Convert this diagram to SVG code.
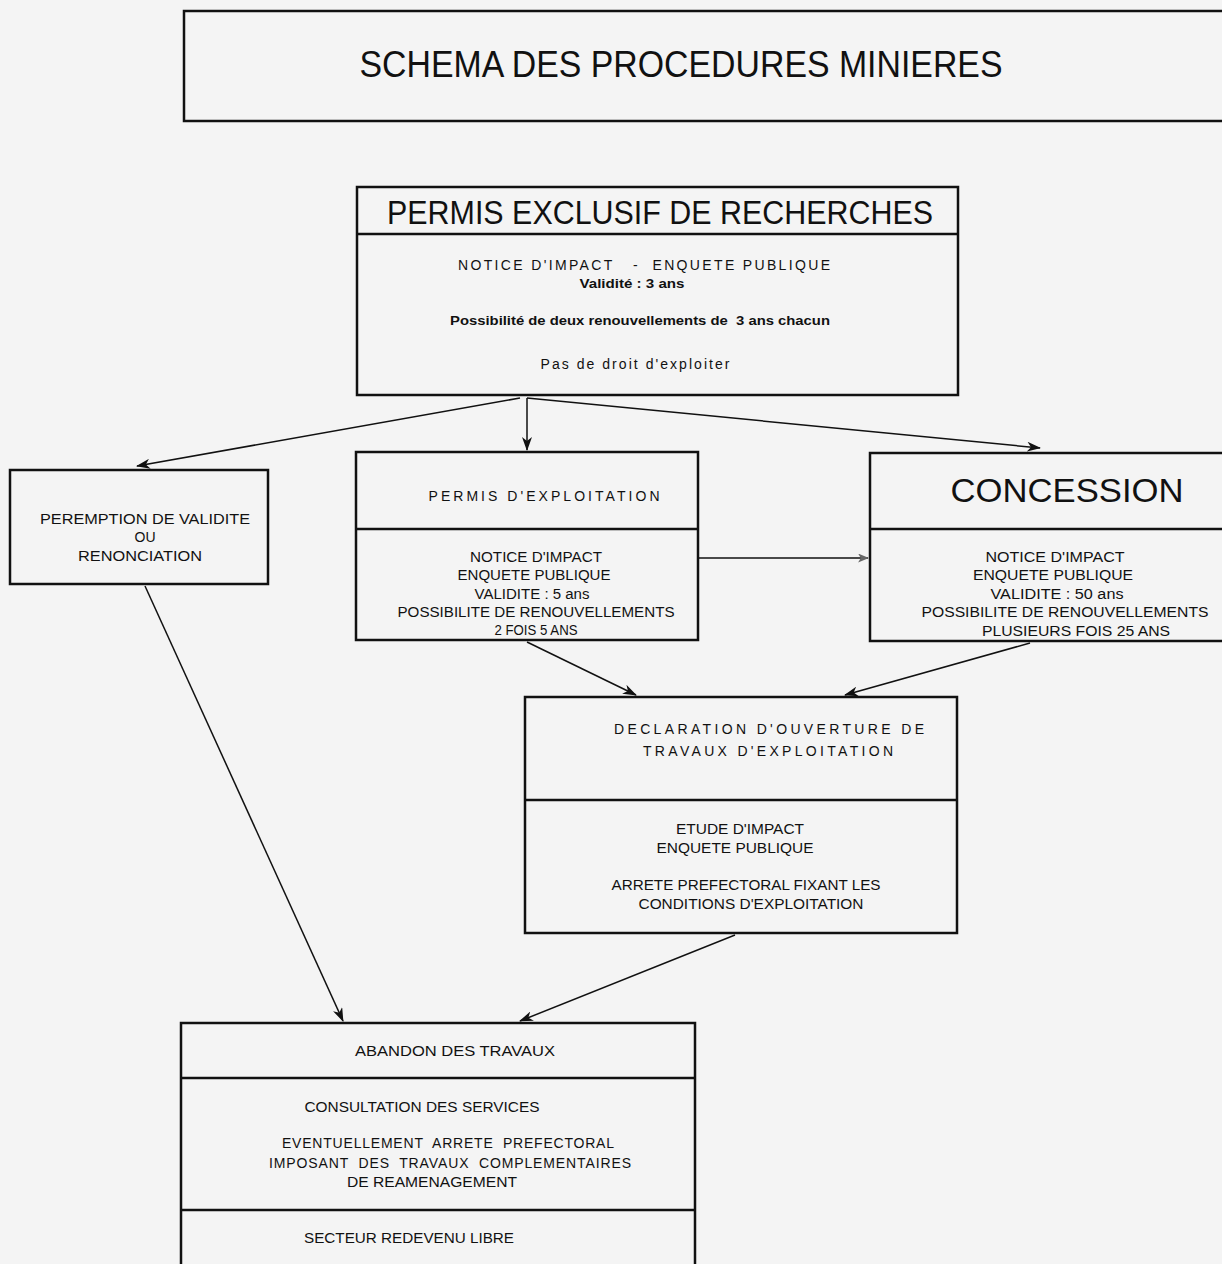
<svg xmlns="http://www.w3.org/2000/svg" width="1222" height="1264" viewBox="0 0 1222 1264">
<style>
.box{fill:none;stroke:#111;stroke-width:2.5}
.div{stroke:#111;stroke-width:2.5}
text{font-family:"Liberation Sans",Arial,sans-serif;fill:#111;text-anchor:middle;white-space:pre}
.s{font-size:14px}
.b{font-size:13px;font-weight:bold}
.big{font-size:33px}
.con{stroke:#111;stroke-width:1.5;fill:none}
</style>
<defs>
<marker id="ah" viewBox="0 0 14 10" refX="13" refY="5" markerWidth="14" markerHeight="10" markerUnits="userSpaceOnUse" orient="auto">
<path d="M0,0 L14,5 L0,10 L4,5 z" fill="#111"/>
</marker>
<marker id="ahg" viewBox="0 0 12 10" refX="11" refY="5" markerWidth="11" markerHeight="9" markerUnits="userSpaceOnUse" orient="auto">
<path d="M0,0 L12,5 L0,10 L3,5 z" fill="#666"/>
</marker>
</defs>
<rect width="1222" height="1264" fill="#f4f4f4"/>

<g id="title">
<rect class="box" x="184" y="11" width="1040" height="110"/>
<text x="681" y="77" font-size="37" textLength="643" lengthAdjust="spacingAndGlyphs">SCHEMA DES PROCEDURES MINIERES</text>
</g>

<g id="connectors">
<line class="con" x1="520" y1="398" x2="137" y2="466" stroke-width="2.2" marker-end="url(#ah)"/>
<line class="con" x1="527" y1="398" x2="527" y2="450" marker-end="url(#ah)"/>
<line class="con" x1="527" y1="398" x2="1040" y2="448" marker-end="url(#ah)"/>
<line class="con" x1="699" y1="558" x2="868" y2="558" stroke="#444" marker-end="url(#ahg)"/>
<line class="con" x1="527" y1="642" x2="636" y2="695" marker-end="url(#ah)"/>
<line class="con" x1="1030" y1="643" x2="845" y2="695" marker-end="url(#ah)"/>
<line class="con" x1="145" y1="586" x2="343" y2="1021" marker-end="url(#ah)"/>
<line class="con" x1="735" y1="935" x2="520" y2="1021" marker-end="url(#ah)"/>
</g>

<g id="per">
<rect class="box" x="357" y="187" width="601" height="208"/>
<line class="div" x1="357" y1="234" x2="958" y2="234"/>
<text class="big" x="660" y="224" textLength="546" lengthAdjust="spacingAndGlyphs">PERMIS EXCLUSIF DE RECHERCHES</text>
<text class="s" x="644" y="270" textLength="372" lengthAdjust="spacing">NOTICE D'IMPACT   -  ENQUETE PUBLIQUE</text>
<text class="b" x="632" y="288" textLength="105" lengthAdjust="spacingAndGlyphs">Validité : 3 ans</text>
<text class="b" x="640" y="325" textLength="380" lengthAdjust="spacingAndGlyphs">Possibilité de deux renouvellements de  3 ans chacun</text>
<text class="s" x="635" y="369" textLength="189" lengthAdjust="spacing">Pas de droit d'exploiter</text>
</g>

<g id="peremption">
<rect class="box" x="10" y="470" width="258" height="114"/>
<text class="s" x="145" y="524" textLength="210" lengthAdjust="spacingAndGlyphs">PEREMPTION DE VALIDITE</text>
<text class="s" x="145" y="542">OU</text>
<text class="s" x="140" y="561" textLength="124" lengthAdjust="spacingAndGlyphs">RENONCIATION</text>
</g>

<g id="permis-exploitation">
<rect class="box" x="356" y="452" width="342" height="188"/>
<line class="div" x1="356" y1="529" x2="698" y2="529"/>
<text class="s" x="544" y="501" textLength="231" lengthAdjust="spacing">PERMIS D'EXPLOITATION</text>
<text class="s" x="536" y="562" textLength="132" lengthAdjust="spacingAndGlyphs">NOTICE D'IMPACT</text>
<text class="s" x="534" y="580" textLength="153" lengthAdjust="spacingAndGlyphs">ENQUETE PUBLIQUE</text>
<text class="s" x="532" y="599" textLength="115" lengthAdjust="spacingAndGlyphs">VALIDITE : 5 ans</text>
<text class="s" x="536" y="617" textLength="277" lengthAdjust="spacingAndGlyphs">POSSIBILITE DE RENOUVELLEMENTS</text>
<text class="s" x="536" y="635" textLength="83" lengthAdjust="spacingAndGlyphs">2 FOIS 5 ANS</text>
</g>

<g id="concession">
<rect class="box" x="870" y="453" width="354" height="188"/>
<line class="div" x1="870" y1="529" x2="1222" y2="529"/>
<text class="big" x="1067" y="502" textLength="233" lengthAdjust="spacingAndGlyphs">CONCESSION</text>
<text class="s" x="1055" y="562" textLength="139" lengthAdjust="spacingAndGlyphs">NOTICE D'IMPACT</text>
<text class="s" x="1053" y="580" textLength="160" lengthAdjust="spacingAndGlyphs">ENQUETE PUBLIQUE</text>
<text class="s" x="1057" y="599" textLength="133" lengthAdjust="spacingAndGlyphs">VALIDITE : 50 ans</text>
<text class="s" x="1065" y="617" textLength="287" lengthAdjust="spacingAndGlyphs">POSSIBILITE DE RENOUVELLEMENTS</text>
<text class="s" x="1076" y="636" textLength="188" lengthAdjust="spacingAndGlyphs">PLUSIEURS FOIS 25 ANS</text>
</g>

<g id="declaration">
<rect class="box" x="525" y="697" width="432" height="236"/>
<line class="div" x1="525" y1="800" x2="957" y2="800"/>
<text class="s" x="769" y="734" font-size="15" textLength="310" lengthAdjust="spacing">DECLARATION D'OUVERTURE DE</text>
<text class="s" x="768" y="756" font-size="15" textLength="250" lengthAdjust="spacing">TRAVAUX D'EXPLOITATION</text>
<text class="s" x="740" y="834" textLength="128" lengthAdjust="spacingAndGlyphs">ETUDE D'IMPACT</text>
<text class="s" x="735" y="853" textLength="157" lengthAdjust="spacingAndGlyphs">ENQUETE PUBLIQUE</text>
<text class="s" x="746" y="890" textLength="269" lengthAdjust="spacingAndGlyphs">ARRETE PREFECTORAL FIXANT LES</text>
<text class="s" x="751" y="909" textLength="225" lengthAdjust="spacingAndGlyphs">CONDITIONS D'EXPLOITATION</text>
</g>

<g id="abandon">
<rect class="box" x="181" y="1023" width="514" height="250"/>
<line class="div" x1="181" y1="1078" x2="695" y2="1078"/>
<line class="div" x1="181" y1="1210" x2="695" y2="1210"/>
<text class="s" x="455" y="1056" textLength="200" lengthAdjust="spacingAndGlyphs">ABANDON DES TRAVAUX</text>
<text class="s" x="422" y="1112" textLength="235" lengthAdjust="spacingAndGlyphs">CONSULTATION DES SERVICES</text>
<text class="s" x="448" y="1148" textLength="332" lengthAdjust="spacing">EVENTUELLEMENT  ARRETE  PREFECTORAL</text>
<text class="s" x="450" y="1168" textLength="362" lengthAdjust="spacing">IMPOSANT  DES  TRAVAUX  COMPLEMENTAIRES</text>
<text class="s" x="432" y="1187" textLength="170" lengthAdjust="spacingAndGlyphs">DE REAMENAGEMENT</text>
<text class="s" x="409" y="1243" textLength="210" lengthAdjust="spacingAndGlyphs">SECTEUR REDEVENU LIBRE</text>
</g>
</svg>
